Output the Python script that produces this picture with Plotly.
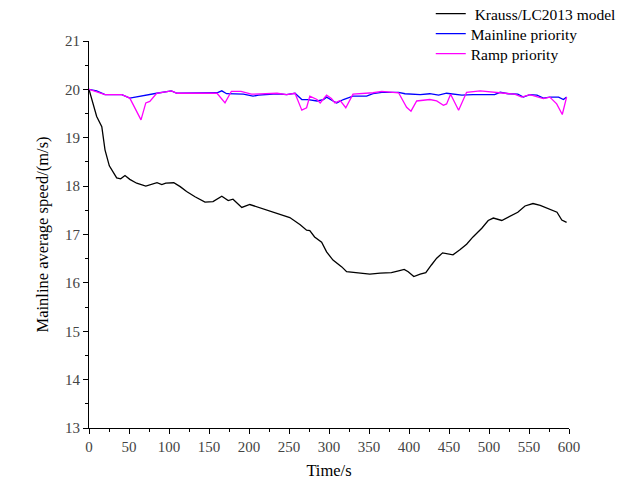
import plotly.graph_objects as go

# Krauss/LC2013 model
t_k = [0, 9.6, 16, 20, 25.4, 34.6, 39.6, 45, 51, 59.6, 71, 78, 85, 91, 96, 106, 114, 122, 132.5, 145,
       155, 166, 174, 180, 191, 201, 214, 226, 239, 251, 264, 272, 276, 282, 290.8, 297, 305, 316, 322,
       337, 351, 364, 378, 387, 394, 399, 406, 414, 421, 428, 434.6, 442, 449, 455, 464, 472, 480, 491,
       499, 505.4, 516, 522, 527, 536, 545, 555, 564, 574, 585, 591, 597]
v_k = [20.0, 19.44, 19.23, 18.75, 18.42, 18.17, 18.15, 18.22, 18.14, 18.06, 18.0, 18.04, 18.07, 18.03,
       18.06, 18.07, 17.99, 17.89, 17.78, 17.67, 17.68, 17.79, 17.70, 17.73, 17.56, 17.62, 17.55, 17.47,
       17.40, 17.35, 17.2, 17.09, 17.08, 16.95, 16.84, 16.64, 16.47, 16.33, 16.23, 16.20, 16.18, 16.20,
       16.21, 16.25, 16.28, 16.23, 16.13, 16.18, 16.21, 16.37, 16.51, 16.62, 16.60, 16.58, 16.69, 16.80,
       16.95, 17.13, 17.29, 17.34, 17.29, 17.34, 17.37, 17.46, 17.59, 17.64, 17.60, 17.53, 17.46, 17.30, 17.25]

# Mainline priority
t_m = [0, 9.6, 20, 41, 51, 64, 74, 84.6, 103, 110, 160, 166, 172, 193, 205, 212, 235, 247, 257.5, 266,
       274, 285, 293, 297, 305, 309.6, 318, 330, 347, 355, 366, 387, 395, 414, 426, 437, 447, 455, 466,
       480, 507, 514, 524, 536, 543, 551, 560, 568, 576, 587, 593, 597]
v_m = [20.0, 19.97, 19.89, 19.89, 19.82, 19.86, 19.90, 19.92, 19.97, 19.92, 19.93, 19.97, 19.91, 19.90,
       19.86, 19.88, 19.91, 19.89, 19.92, 19.79, 19.79, 19.76, 19.79, 19.84, 19.76, 19.72, 19.79, 19.86,
       19.86, 19.91, 19.94, 19.94, 19.91, 19.89, 19.91, 19.88, 19.92, 19.90, 19.88, 19.89, 19.89, 19.94,
       19.91, 19.90, 19.84, 19.89, 19.88, 19.82, 19.84, 19.84, 19.79, 19.84]

# Ramp priority
t_r = [0, 20, 41, 51, 65, 71, 76, 84.6, 103, 110, 160, 170, 178, 190, 203, 235, 247, 257.5, 266, 272,
       276, 285, 289, 297, 303, 307.5, 314, 321, 330, 355, 366, 387, 397, 402.5, 409.6, 426, 434.6, 443,
       447, 452, 462, 472, 489, 510, 521, 532, 541, 551, 568, 576, 584.6, 591.6, 597]
v_r = [20.0, 19.89, 19.89, 19.82, 19.37, 19.72, 19.75, 19.92, 19.97, 19.92, 19.92, 19.72, 19.96, 19.96,
       19.90, 19.92, 19.89, 19.92, 19.57, 19.62, 19.86, 19.79, 19.72, 19.88, 19.81, 19.72, 19.77, 19.62,
       19.90, 19.93, 19.96, 19.93, 19.63, 19.55, 19.76, 19.79, 19.76, 19.67, 19.70, 19.90, 19.57, 19.94,
       19.97, 19.94, 19.91, 19.90, 19.84, 19.89, 19.81, 19.84, 19.70, 19.48, 19.84]

x_ticks = [0, 50, 100, 150, 200, 250, 300, 350, 400, 450, 500, 550, 600]
y_ticks = [13, 14, 15, 16, 17, 18, 19, 20, 21]

font_family = "Liberation Serif"

fig = go.Figure()
fig.add_trace(go.Scatter(x=t_k, y=v_k, mode="lines", name=" Krauss/LC2013 model",
                         line=dict(color="black", width=1.3), legend="legend"))
fig.add_trace(go.Scatter(x=t_m, y=v_m, mode="lines", name="Mainline priority",
                         line=dict(color="#0000ff", width=1.3), legend="legend2"))
fig.add_trace(go.Scatter(x=t_r, y=v_r, mode="lines", name="Ramp priority",
                         line=dict(color="#ff00ff", width=1.3), legend="legend3"))

axis_common = dict(showline=True, linecolor="black", linewidth=1, showgrid=False, zeroline=False,
                   ticks="outside", ticklen=5, tickwidth=1, tickcolor="black", automargin=False,
                   tickfont=dict(family=font_family, size=15, color="#444"), mirror=False)

fig.update_xaxes(range=[0, 600], tickvals=x_ticks, ticktext=[str(v) for v in x_ticks],
                 title=dict(text="Time/s", font=dict(family=font_family, size=16.5, color="black"), standoff=10),
                 minor=dict(ticks="outside", ticklen=3, tickcolor="black", dtick=25, tick0=0),
                 **axis_common)
fig.update_yaxes(range=[13, 21], tickvals=y_ticks, ticktext=[str(v) for v in y_ticks],
                 title=dict(text="Mainline average speed/(m/s)", font=dict(family=font_family, size=16.5, color="black"), standoff=12),
                 minor=dict(ticks="outside", ticklen=3, tickcolor="black", dtick=0.5, tick0=13),
                 **axis_common)

leg_common = dict(x=0.712, xanchor="left", yanchor="middle", bgcolor="rgba(0,0,0,0)",
                  font=dict(family=font_family, size=15.5, color="black"), itemwidth=30)

fig.update_layout(
    width=633, height=487,
    margin=dict(l=81, r=72, t=33, b=67, autoexpand=False),
    plot_bgcolor="white", paper_bgcolor="white",
    font=dict(family=font_family, size=16.5, color="black"),
    legend=dict(y=1.0698, **leg_common),
    legend2=dict(y=1.0181, **leg_common),
    legend3=dict(y=0.9664, **leg_common),
    showlegend=True,
)

fig.write_html("out.html")
